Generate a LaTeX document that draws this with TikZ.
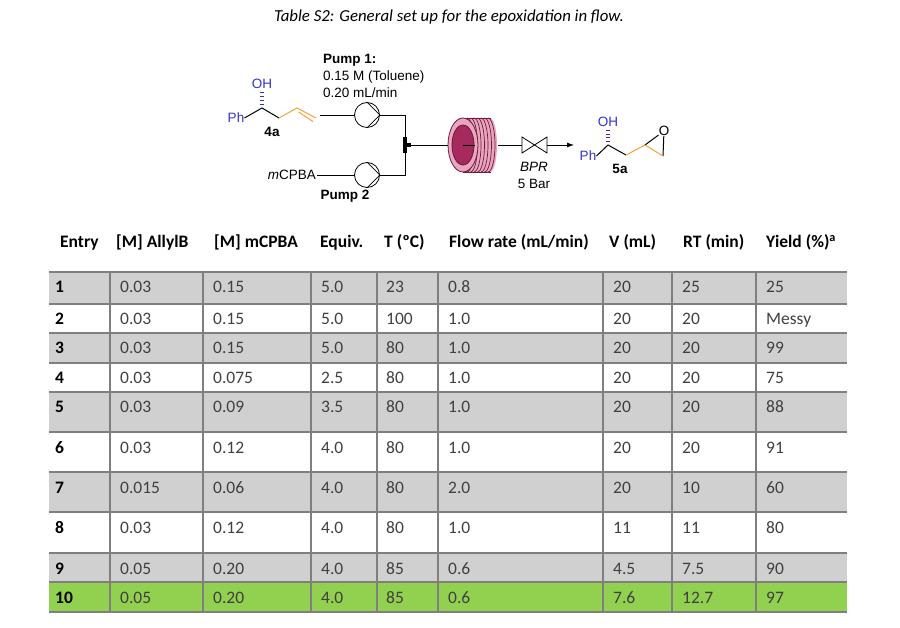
\documentclass[tikz,border=0pt]{standalone}
\usepackage{fontspec}
\setmainfont{Carlito}
\newfontfamily\arial{Liberation Sans}
\usetikzlibrary{arrows.meta,calc}
\definecolor{cellgray}{HTML}{D0D0D0}
\definecolor{cellgreen}{HTML}{92D050}
\definecolor{rule}{HTML}{7F7F7F}
\definecolor{molblue}{HTML}{3333CC}
\definecolor{molorange}{HTML}{F7A13A}
\definecolor{coilpink}{HTML}{E9A6BE}
\definecolor{coildark}{HTML}{6E1B3A}
\definecolor{coilin}{HTML}{A52A5E}
\definecolor{datatext}{HTML}{404040}
\tikzset{
 lbl/.style={font=\arial\fontsize{13.5}{14}\selectfont, inner sep=0pt},
 lblb/.style={lbl, font=\arial\bfseries\fontsize{13.5}{14}\selectfont},
 pipe/.style={line width=0.8pt},
 bond/.style={line width=1pt},
 pump/.style={circle, draw, line width=0.8pt, minimum size=25pt, inner sep=0pt, fill=white},
 hdr/.style={anchor=base west, inner sep=0pt, font=\bfseries\fontsize{17.5}{18}\selectfont},
 dat/.style={anchor=base west, inner sep=0pt, text=datatext, font=\fontsize{17.5}{18}\selectfont},
 ent/.style={anchor=base west, inner sep=0pt, font=\bfseries\fontsize{17.5}{18}\selectfont},
 vrule/.style={rule, line width=1.2pt},
 hrule/.style={rule, line width=2pt},
}
\begin{document}
\begin{tikzpicture}[x=1pt,y=-1pt]
\useasboundingbox (0,0) rectangle (900,628);
% title
\node[font=\itshape\fontsize{16.8}{18}\selectfont] (title) at (449,17) {Table S2: General set up for the epoxidation in flow.};
% ---- scheme ----
\node[lblb, anchor=west] (p1t) at (323,60) {Pump 1:};
\node[lbl, anchor=west] (p1a) at (323,77) {0.15 M (Toluene)};
\node[lbl, anchor=west] (p1b) at (323,93) {0.20 mL/min};
\node[pump] (pump1) at (367,115) {};
\node[pump] (pump2) at (367,175) {};
\draw[line width=0.7pt] (pump1.north) -- (pump1.east) -- (pump1.south);
\draw[line width=0.7pt] (pump2.north) -- (pump2.east) -- (pump2.south);
\node[lblb] (p2t) at (345,196) {Pump 2};
\node[lbl, anchor=east, inner sep=1pt] (mcpba) at (317,175) {\textit{m}CPBA};
% 4a molecule
\node[lbl, text=molblue] (ph1) at (236,118) {Ph};
\coordinate (c1) at (262,108);
\node[lbl, text=molblue] (oh1) at (262,84) {OH};
\coordinate (c2) at (279,118);
\coordinate (c3) at (297,108);
\coordinate (c4) at (316,118);
\node[lblb] (l4a) at (272,132) {4a};
\draw[bond] (ph1.east) -- (c1) -- (c2);
\draw[bond, molorange] (c2) -- (c3) -- (c4);
\draw[bond, molorange] ($(c3)+(1.5,4)$) -- ($(c4)+(-3,3.5)$);
\foreach \k in {0.2,0.4,0.6,0.8} \draw[molblue, line width=0.8pt] ($(c1)!\k!(oh1.south)+(-2,0)$) -- ($(c1)!\k!(oh1.south)+(2,0)$);
\coordinate (s1) at (320,115);
\draw[pipe] (s1) -- (pump1);
\draw[pipe] (mcpba) -- (pump2);
\coordinate (jn) at (405,145);
\draw[pipe] (pump1) -- (pump1 -| jn) -- (jn);
\draw[pipe] (pump2) -- (pump2 -| jn) -- (jn);
\fill (403,137) rectangle (407,153);
\fill (403,143) rectangle (411,147);
% coil
\coordinate (coilL) at (463,145);
\coordinate (coilR) at (490,145);
\draw[pipe] (jn) -- (coilR);
\fill[coilpink] (490,145) ellipse (7 and 27);
\fill[coilpink] (463,118) rectangle (490,172);
\foreach \xx in {467,470.5,...,491} \draw[coildark, line width=0.7pt] (\xx,118) arc[start angle=-90, end angle=90, x radius=7, y radius=27];
\draw[coildark, line width=0.7pt] (463,118) -- (491,118) (463,172) -- (491,172);
\draw[coildark, fill=coilpink, line width=0.8pt] (coilL) ellipse (15 and 27);
\draw[coildark, fill=coilin, line width=0.8pt] (coilL) ellipse (11 and 20);
\draw[pipe] (coilL) -- (475,145);
% BPR
\coordinate (bprL) at (522,145);
\coordinate (bprR) at (547,145);
\draw[pipe] (498,145) -- (bprL);
\draw[line width=0.8pt] (522,137) -- (547,153) -- (547,137) -- (522,153) -- cycle;
\coordinate (arrEnd) at (574,145);
\draw[pipe, -{Latex[length=7pt,width=5pt]}] (bprR) -- (arrEnd);
\node[lbl, font=\arial\itshape\fontsize{13.5}{14}\selectfont] (bpr) at (534,167) {BPR};
\node[lbl] (bar) at (534,184) {5 Bar};
% 5a molecule
\node[lbl, text=molblue] (ph2) at (588,156) {Ph};
\coordinate (d1) at (608,145);
\node[lbl, text=molblue] (oh2) at (608,122) {OH};
\coordinate (d2) at (626,155);
\coordinate (d3) at (645,145);
\node[lbl] (ox) at (664,131) {O};
\coordinate (d4) at (663,156);
\node[lblb] (l5a) at (620,169) {5a};
\draw[bond] (ph2.east) -- (d1) -- (d2);
\draw[bond, molorange] (d2) -- (d3);
\draw[bond] (d3) -- (ox) -- (d4);
\draw[bond, molorange] (d3) -- (d4);
\foreach \k in {0.2,0.4,0.6,0.8} \draw[molblue, line width=0.8pt] ($(d1)!\k!(oh2.south)+(-2,0)$) -- ($(d1)!\k!(oh2.south)+(2,0)$);
% ---- table ----
\node[hdr] (h1) at (60,248) {Entry};
\node[hdr] (h2) at (116,248) {[M] AllylB};
\node[hdr] (h3) at (214,248) {[M] mCPBA};
\node[hdr] (h4) at (320,248) {Equiv.};
\node[hdr] (h5) at (384,248) {T (ºC)};
\node[hdr] (h6) at (449,248) {Flow rate (mL/min)};
\node[hdr] (h7) at (609,248) {V (mL)};
\node[hdr] (h8) at (683,248) {RT (min)};
\node[hdr] (h9) at (766,248) {Yield (\%)\textsuperscript{a}};
% fills
\foreach \t/\b in {272/304,333/363,392/432,472/512,553/582} \fill[cellgray] (49,\t) rectangle (847,\b);
\fill[cellgreen] (49,582) rectangle (847,612);
% rules
\foreach \yy in {272,304,333,363,392,432,472,512,553,582,612} \draw[hrule] (49,\yy) -- (847,\yy);
\foreach \xx in {110,203,311,377,438,603,672,756} \draw[vrule] (\xx,272) -- (\xx,612);
% data
\foreach \t/\e/\a/\b/\c/\d/\f/\v/\r/\y in {
 272/1/0.03/0.15/5.0/23/0.8/20/25/25,
 304/2/0.03/0.15/5.0/100/1.0/20/20/Messy,
 333/3/0.03/0.15/5.0/80/1.0/20/20/99,
 363/4/0.03/0.075/2.5/80/1.0/20/20/75,
 392/5/0.03/0.09/3.5/80/1.0/20/20/88,
 432/6/0.03/0.12/4.0/80/1.0/20/20/91,
 472/7/0.015/0.06/4.0/80/2.0/20/10/60,
 512/8/0.03/0.12/4.0/80/1.0/11/11/80,
 553/9/0.05/0.20/4.0/85/0.6/4.5/7.5/90,
 582/10/0.05/0.20/4.0/85/0.6/7.6/12.7/97}{
 \node[ent] (e\e) at (55,\t+21) {\e};
 \node[dat] (a\e) at (120,\t+21) {\a};
 \node[dat] (b\e) at (213,\t+21) {\b};
 \node[dat] (c\e) at (321,\t+21) {\c};
 \node[dat] (d\e) at (386,\t+21) {\d};
 \node[dat] (f\e) at (448,\t+21) {\f};
 \node[dat] (v\e) at (613,\t+21) {\v};
 \node[dat] (r\e) at (682,\t+21) {\r};
 \node[dat] (y\e) at (766,\t+21) {\y};
}
\end{tikzpicture}
\end{document}
